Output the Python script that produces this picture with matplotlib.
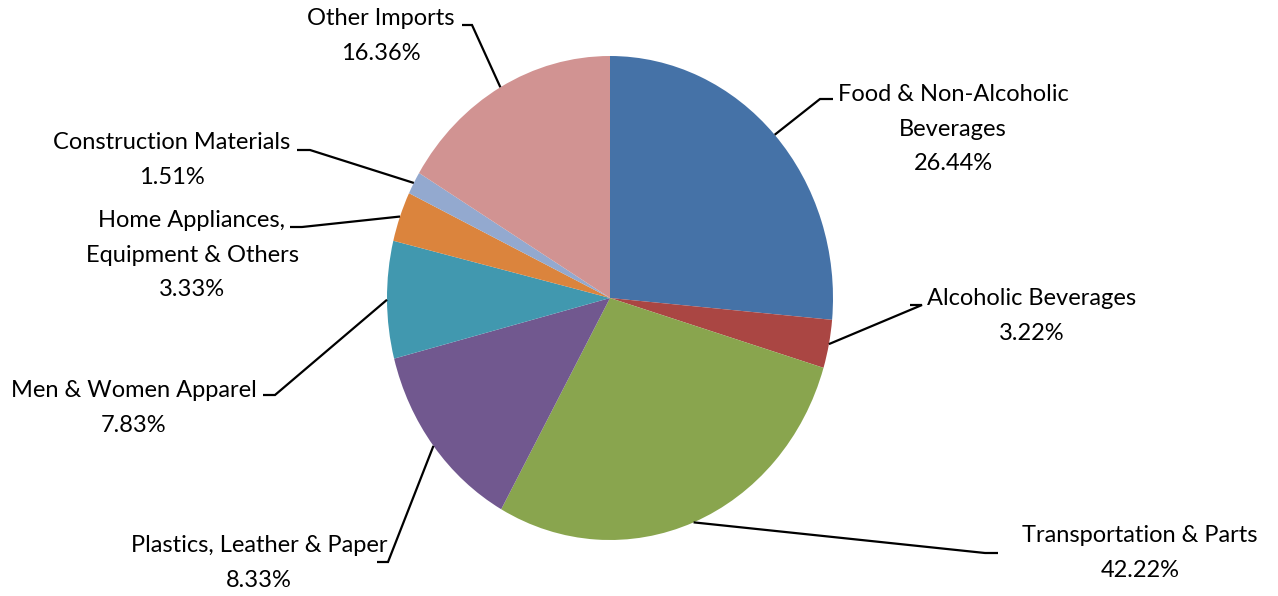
import numpy as np
import matplotlib
matplotlib.use("Agg")
import matplotlib.pyplot as plt

# ---- data ----
categories = ["Food & Non-Alcoholic\nBeverages", "Alcoholic Beverages", "Transportation & Parts",
              "Plastics, Leather & Paper", "Men & Women Apparel",
              "Home Appliances,\nEquipment & Others", "Construction Materials", "Other Imports"]
slice_values = [26.44, 3.22, 28.45, 12.86, 7.83, 3.33, 1.51, 16.36]
# percentages as printed on the labels
label_pcts = ["26.44%", "3.22%", "42.22%", "8.33%", "7.83%", "3.33%", "1.51%", "16.36%"]
colors = ["#4572A7", "#AA4643", "#89A54E", "#71588F", "#4198AF", "#DB843D", "#93A9CF", "#D19392"]

W, H = 1278, 596
fig = plt.figure(figsize=(W / 100, H / 100), dpi=100)
fig.patch.set_facecolor("white")

# pie geometry (pixels)
cx, cy, rx, ry = 610, 298, 223, 242
ax_pie = fig.add_axes([(cx - rx) / W, (H - cy - ry) / H, 2 * rx / W, 2 * ry / H])
wedges, _ = ax_pie.pie(slice_values, colors=colors, startangle=90, counterclock=False,
                       radius=1.0, wedgeprops=dict(linewidth=0))
ax_pie.set_aspect("auto")
ax_pie.set_xlim(-1, 1)
ax_pie.set_ylim(-1, 1)
ax_pie.axis("off")

# overlay in pixel coordinates
ax = fig.add_axes([0, 0, 1, 1], facecolor="none")
ax.set_xlim(0, W)
ax.set_ylim(H, 0)
ax.axis("off")

# layout: label block centers and leader elbows (pixels)
text_pos = [(953, 129), (1032, 316), (1140, 553), (259, 563), (134, 408), (192, 255), (172, 160), (381, 36)]
elbows = [((820, 99), (833, 99)), ((922, 305), (910, 305)), ((985, 553), (998, 553)),
          ((388, 562), (377, 562)), ((275, 395), (263, 395)), ((302, 227), (290, 227)),
          ((310, 150), (297, 150)), ((472, 25), (462, 25))]

font = ["Lato", "DejaVu Sans"]
for w, cat, pct, tp, (e1, e2) in zip(wedges, categories, label_pcts, text_pos, elbows):
    mid = np.deg2rad((w.theta1 + w.theta2) / 2)
    sx = cx + rx * np.cos(mid)
    sy = cy - ry * np.sin(mid)
    ax.plot([sx, e1[0], e2[0]], [sy, e1[1], e2[1]], color="black", lw=1.6,
            solid_capstyle="butt", solid_joinstyle="miter")
    ax.text(tp[0], tp[1], cat + "\n" + pct, ha="center", va="center", fontsize=17,
            family=font, color="#000000", linespacing=1.78)

fig.savefig("out.png", dpi=100, facecolor="white")
